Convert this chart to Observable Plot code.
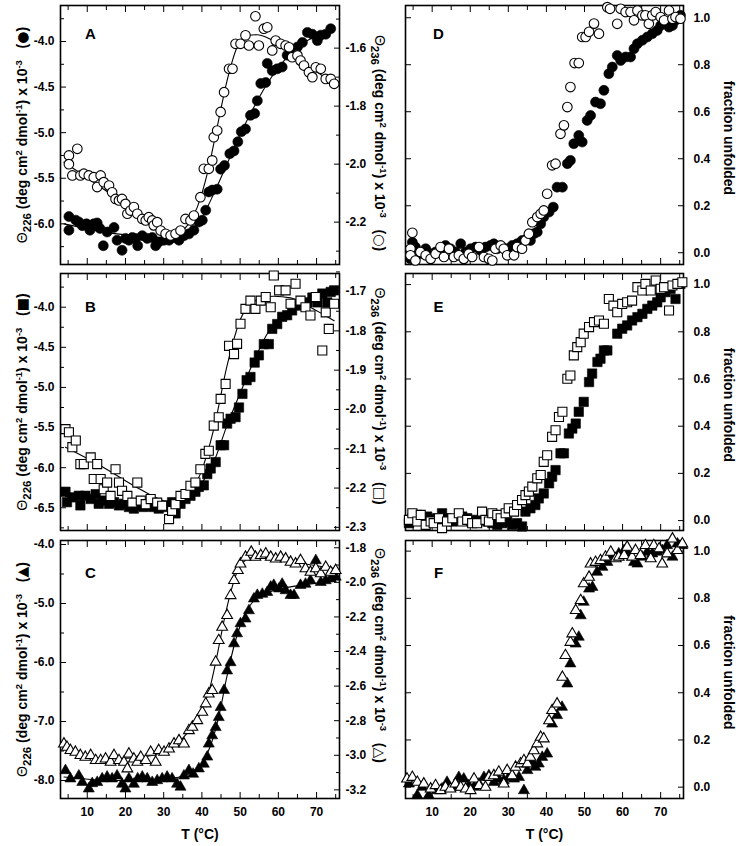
<!DOCTYPE html>
<html><head><meta charset="utf-8">
<script src="https://cdn.jsdelivr.net/npm/d3@7"></script>
<script src="https://cdn.jsdelivr.net/npm/@observablehq/plot@0.6"></script>
<style>
html,body{margin:0;padding:0;background:#fff;}
#wrap{position:relative;width:741px;height:846px;overflow:hidden;background:#fff;}
</style></head><body><div id="wrap"></div>
<script>
// ---------- shared axis values ----------
const xDomain = [3, 76];
const xMajor = [10, 20, 30, 40, 50, 60, 70];
const xMinor = [5, 15, 25, 35, 45, 55, 65, 75];
const fracTicks = [0, 0.2, 0.4, 0.6, 0.8, 1.0];

// ---------- Panel A (filled: left axis, open: right axis) ----------
const aYL = [-6.446, -3.605], aYR = [-2.346, -1.453];
const aLMajor = [-6.0, -5.5, -5.0, -4.5, -4.0], aLMinor = [-6.25, -5.75, -5.25, -4.75, -4.25, -3.75];
const aRMajor = [-2.2, -2.0, -1.8, -1.6], aRMinor = [-2.3, -2.1, -1.9, -1.7, -1.5];
const aFilled = [[5.2,-5.92],[5.2,-6.07],[7.0,-5.96],[7.8,-5.98],[8.7,-6.02],[9.8,-6.0],[10.7,-6.07],[11.7,-6.0],[12.6,-5.99],[13.3,-6.05],[14.2,-6.24],[15.2,-6.09],[17.0,-6.04],[17.8,-6.18],[19.1,-6.29],[20.0,-6.16],[20.9,-6.18],[21.8,-6.15],[22.6,-6.16],[23.2,-6.24],[24.4,-6.13],[25.7,-6.16],[27.0,-6.15],[27.9,-6.24],[28.7,-6.2],[30.1,-6.18],[31.4,-6.18],[32.7,-6.15],[34.0,-6.18],[35.3,-6.13],[36.6,-6.11],[37.9,-6.07],[39.2,-5.98],[40.1,-5.96],[41.0,-5.85],[41.8,-5.65],[42.7,-5.63],[44.0,-5.62],[44.9,-5.40],[45.9,-5.36],[47.3,-5.23],[48.4,-5.20],[49.4,-5.10],[50.3,-4.99],[51.4,-4.96],[52.7,-4.81],[53.8,-4.79],[54.5,-4.65],[55.4,-4.46],[56.7,-4.45],[57.1,-4.24],[58.4,-4.32],[59.7,-4.30],[61.0,-4.28],[62.3,-4.15],[63.6,-4.10],[65.0,-4.06],[66.3,-4.01],[67.6,-3.90],[68.9,-3.92],[70.2,-3.99],[71.1,-3.93],[72.4,-3.92],[73.7,-3.86]];
const aOpen = [[5.2,-1.970],[5.2,-2.000],[7.4,-1.947],[6.1,-2.039],[8.2,-2.039],[9.1,-2.033],[10.4,-2.039],[11.7,-2.045],[12.6,-2.079],[13.5,-2.039],[14.3,-2.062],[15.7,-2.074],[16.5,-2.097],[17.4,-2.120],[18.3,-2.125],[19.1,-2.120],[20.0,-2.137],[20.5,-2.171],[21.3,-2.160],[22.2,-2.148],[23.1,-2.171],[24.4,-2.189],[25.3,-2.194],[26.1,-2.183],[27.0,-2.194],[27.4,-2.211],[28.3,-2.200],[29.2,-2.229],[30.5,-2.240],[31.8,-2.246],[33.1,-2.240],[34.4,-2.229],[35.7,-2.189],[37.0,-2.194],[37.9,-2.177],[39.6,-2.114],[40.5,-2.016],[41.8,-2.016],[42.7,-1.987],[43.1,-1.907],[44.0,-1.884],[44.9,-1.820],[45.8,-1.752],[47.1,-1.671],[48.0,-1.671],[48.8,-1.585],[50.1,-1.585],[51.4,-1.556],[52.3,-1.591],[54.0,-1.490],[54.9,-1.591],[56.2,-1.533],[57.1,-1.528],[58.4,-1.608],[59.3,-1.574],[60.6,-1.585],[61.9,-1.591],[62.8,-1.597],[63.6,-1.631],[65.0,-1.625],[65.8,-1.643],[66.7,-1.660],[68.0,-1.683],[68.9,-1.700],[69.8,-1.666],[71.1,-1.671],[72.4,-1.706],[73.7,-1.706],[74.6,-1.723]];
const aFilledFit = [[3.9,-6.0],[17.8,-6.11],[30.9,-6.15],[36.2,-6.11],[39.6,-5.96],[43.1,-5.67],[46.6,-5.34],[50.1,-5.01],[53.6,-4.72],[57.1,-4.46],[61.5,-4.21],[65.8,-4.04],[70.2,-3.93],[74.6,-3.84]];
const aOpenFit = [[3.9,-1.993],[13.5,-2.079],[22.2,-2.160],[30.9,-2.234],[33.5,-2.240],[36.2,-2.211],[38.8,-2.148],[41.4,-2.033],[44.0,-1.872],[46.6,-1.711],[49.2,-1.597],[51.9,-1.556],[54.5,-1.554],[57.1,-1.564],[61.5,-1.602],[65.8,-1.648],[70.2,-1.683],[74.6,-1.723]];

// ---------- Panel B ----------
const bYL = [-6.783, -3.58], bYR = [-2.308, -1.654];
const bLMajor = [-6.5, -6.0, -5.5, -5.0, -4.5, -4.0], bLMinor = [-6.75, -6.25, -5.75, -5.25, -4.75, -4.25, -3.75];
const bRMajor = [-2.3, -2.2, -2.1, -2.0, -1.9, -1.8, -1.7], bRMinor = [-2.25, -2.15, -2.05, -1.95, -1.85, -1.75, -1.65];
const bFilled = [[4.3,-6.30],[4.7,-6.43],[6.1,-6.37],[7.8,-6.35],[8.2,-6.47],[9.5,-6.35],[10.9,-6.39],[12.2,-6.33],[13.0,-6.45],[14.3,-6.41],[15.7,-6.45],[17.0,-6.43],[18.3,-6.47],[19.6,-6.45],[20.9,-6.49],[22.2,-6.51],[23.5,-6.47],[24.8,-6.49],[26.1,-6.47],[27.4,-6.49],[28.7,-6.51],[30.1,-6.49],[31.4,-6.47],[32.2,-6.43],[33.1,-6.57],[34.4,-6.45],[35.7,-6.39],[37.0,-6.35],[38.3,-6.30],[39.2,-6.24],[40.5,-6.22],[41.4,-6.08],[42.3,-6.01],[43.6,-5.93],[44.9,-5.72],[45.8,-5.72],[46.6,-5.45],[47.5,-5.39],[48.8,-5.37],[49.7,-5.25],[50.6,-5.08],[51.7,-4.91],[52.7,-4.87],[53.8,-4.69],[54.9,-4.60],[56.2,-4.46],[57.5,-4.46],[58.4,-4.27],[59.7,-4.21],[61.0,-4.12],[62.3,-4.10],[63.6,-4.04],[65.0,-3.98],[66.3,-3.96],[67.6,-3.94],[68.9,-3.88],[70.2,-3.94],[71.5,-3.83],[72.8,-3.94],[73.7,-3.81],[74.6,-3.79]];
const bOpen = [[4.3,-2.050],[5.2,-2.058],[6.1,-2.096],[7.0,-2.079],[8.2,-2.139],[9.1,-2.139],[10.9,-2.122],[11.7,-2.177],[12.6,-2.139],[13.5,-2.177],[14.3,-2.203],[15.2,-2.186],[16.1,-2.220],[17.4,-2.152],[18.3,-2.186],[19.1,-2.207],[20.5,-2.220],[21.8,-2.237],[23.1,-2.186],[24.0,-2.232],[25.3,-2.241],[26.6,-2.228],[28.3,-2.237],[29.6,-2.245],[31.4,-2.279],[32.2,-2.258],[33.1,-2.241],[34.4,-2.220],[35.7,-2.215],[37.0,-2.194],[38.3,-2.186],[39.6,-2.152],[40.9,-2.113],[41.8,-2.105],[43.1,-2.041],[44.4,-2.020],[44.9,-1.973],[46.2,-1.935],[47.1,-1.838],[48.4,-1.859],[49.2,-1.833],[50.1,-1.782],[51.4,-1.744],[52.7,-1.723],[54.0,-1.744],[55.4,-1.723],[56.7,-1.714],[58.0,-1.740],[58.8,-1.659],[60.2,-1.697],[61.9,-1.697],[63.2,-1.731],[64.5,-1.680],[65.8,-1.723],[67.1,-1.740],[68.4,-1.761],[69.8,-1.714],[71.5,-1.850],[72.4,-1.753],[73.2,-1.795],[74.6,-1.731]];
const bFilledFit = [[4.3,-6.36],[17.8,-6.43],[30.9,-6.47],[36.2,-6.38],[39.6,-6.22],[43.1,-5.93],[46.6,-5.47],[50.1,-5.06],[53.6,-4.67],[57.1,-4.33],[61.5,-4.09],[65.8,-3.96],[70.2,-3.88],[74.6,-3.81]];
const bOpenFit = [[4.3,-2.096],[13.5,-2.143],[22.2,-2.194],[30.9,-2.235],[33.5,-2.238],[36.2,-2.220],[39.6,-2.164],[43.1,-2.050],[46.6,-1.888],[50.1,-1.770],[53.6,-1.725],[58.8,-1.712],[63.2,-1.716],[67.6,-1.736],[71.9,-1.759],[74.6,-1.774]];

// ---------- Panel C ----------
const cYL = [-8.305, -3.932], cYR = [-3.25, -1.758];
const cLMajor = [-8, -7, -6, -5, -4], cLMinor = [-7.5, -6.5, -5.5, -4.5];
const cRMajor = [-3.2, -3.0, -2.8, -2.6, -2.4, -2.2, -2.0, -1.8], cRMinor = [-3.1, -2.9, -2.7, -2.5, -2.3, -2.1, -1.9];
const cFilled = [[4.3,-7.83],[5.6,-7.97],[7.8,-7.92],[8.7,-8.03],[10.4,-8.14],[11.3,-8.05],[12.6,-8.03],[13.9,-7.97],[15.2,-7.94],[16.5,-7.97],[17.8,-7.92],[19.1,-8.06],[20.0,-8.14],[20.9,-7.97],[22.2,-8.06],[23.2,-7.97],[24.4,-7.94],[25.7,-7.97],[27.0,-8.03],[28.3,-8.0],[29.6,-7.97],[30.9,-7.94],[32.2,-7.97],[33.5,-8.06],[34.4,-8.11],[35.3,-7.92],[36.6,-7.83],[37.7,-7.89],[39.2,-7.80],[40.5,-7.72],[41.4,-7.60],[41.8,-7.38],[42.7,-7.24],[43.6,-7.10],[44.4,-6.93],[44.9,-6.76],[45.8,-6.47],[46.6,-6.14],[47.5,-6.0],[48.4,-5.68],[49.2,-5.51],[50.1,-5.34],[51.4,-5.26],[52.3,-5.12],[53.6,-4.92],[54.5,-4.86],[55.8,-4.84],[57.1,-4.81],[58.0,-4.72],[58.8,-4.69],[60.2,-4.75],[61.0,-4.67],[61.9,-4.78],[63.2,-4.86],[64.1,-4.86],[65.8,-4.69],[67.1,-4.67],[68.4,-4.61],[69.8,-4.27],[71.1,-4.64],[72.4,-4.61],[73.7,-4.58],[75.0,-4.55]];
const cOpen = [[3.9,-2.934],[4.7,-2.953],[5.6,-2.972],[6.9,-2.982],[8.2,-3.001],[9.5,-3.011],[10.9,-3.001],[12.2,-3.030],[13.5,-3.030],[14.8,-3.021],[16.1,-3.040],[17.0,-3.001],[18.3,-3.030],[19.6,-3.040],[20.5,-3.078],[20.9,-2.992],[22.2,-3.021],[23.1,-3.040],[24.0,-3.011],[25.3,-3.030],[26.6,-2.982],[27.9,-3.040],[28.7,-2.972],[30.1,-2.982],[31.4,-2.963],[32.7,-2.934],[34.0,-2.915],[35.3,-2.934],[36.6,-2.857],[37.5,-2.837],[38.8,-2.799],[40.1,-2.751],[41.0,-2.702],[41.8,-2.645],[42.7,-2.625],[43.6,-2.461],[44.4,-2.336],[45.3,-2.259],[46.6,-2.191],[47.5,-2.076],[48.4,-1.989],[49.4,-1.931],[50.1,-1.893],[51.4,-1.854],[52.9,-1.825],[54.0,-1.854],[55.4,-1.844],[56.7,-1.835],[58.0,-1.854],[59.3,-1.864],[60.6,-1.854],[61.9,-1.864],[63.2,-1.883],[64.5,-1.893],[65.8,-1.873],[67.1,-1.921],[68.4,-1.941],[69.8,-1.921],[71.1,-1.950],[72.4,-1.912],[73.7,-1.941],[75.0,-1.931]];
const cFilledFit = [[3.9,-7.94],[17.8,-8.0],[30.9,-7.97],[36.2,-7.90],[39.6,-7.75],[42.2,-7.42],[44.4,-6.92],[46.6,-6.22],[48.4,-5.72],[50.1,-5.36],[52.3,-5.06],[55.0,-4.88],[61.5,-4.74],[68.4,-4.67],[75.0,-4.61]];
const cOpenFit = [[3.9,-2.963],[13.5,-3.021],[22.2,-3.015],[30.9,-2.972],[36.2,-2.870],[39.6,-2.760],[42.2,-2.600],[44.0,-2.420],[45.8,-2.220],[47.5,-2.060],[49.2,-1.940],[51.0,-1.880],[53.6,-1.855],[58.8,-1.860],[65.8,-1.890],[75.0,-1.920]];

// ---------- Panel D (fraction unfolded) ----------
const dY = [-0.05, 1.052];
const dFilled = [[4.3,-0.026],[4.8,0.045],[5.6,0.024],[6.9,-0.004],[8.3,0.017],[9.6,-0.004],[10.9,0.003],[12.2,0.003],[13.5,0.031],[14.8,0.017],[16.1,0.003],[17.5,0.038],[18.8,0.003],[20.1,0.017],[21.4,0.024],[22.7,0.010],[24.0,0.024],[25.3,0.031],[26.2,0.038],[27.1,0.017],[28.4,0.024],[29.7,0.017],[31.0,0.031],[32.3,0.038],[33.6,0.052],[34.9,0.060],[35.8,0.052],[36.7,0.081],[37.6,0.088],[38.5,0.123],[39.3,0.152],[40.7,0.173],[41.8,0.194],[42.8,0.279],[44.2,0.279],[45.5,0.379],[46.3,0.393],[47.2,0.464],[48.5,0.499],[49.4,0.471],[50.7,0.563],[51.6,0.584],[52.9,0.641],[54.2,0.634],[55.1,0.691],[56.4,0.762],[57.3,0.790],[58.6,0.839],[59.5,0.818],[60.8,0.833],[62.1,0.833],[63.0,0.868],[63.9,0.889],[65.2,0.904],[66.5,0.918],[67.8,0.932],[69.1,0.946],[70.0,0.967],[70.9,0.982],[72.2,0.960],[73.1,0.967],[73.9,0.989],[75.2,1.010]];
const dOpen = [[4.3,0.017],[4.8,0.085],[4.3,-0.011],[5.6,-0.033],[6.9,0.003],[8.3,-0.011],[9.6,-0.026],[10.9,-0.004],[12.2,0.024],[13.1,-0.018],[14.4,0.017],[15.7,-0.018],[17.0,-0.011],[18.3,-0.026],[19.6,-0.004],[20.5,-0.018],[22.3,0.024],[23.6,-0.018],[24.9,-0.026],[25.8,-0.033],[26.6,0.017],[28.0,0.031],[28.8,0.017],[29.7,-0.011],[31.5,-0.011],[32.3,0.024],[33.6,0.017],[34.5,0.052],[35.4,0.081],[36.3,0.130],[37.6,0.152],[38.5,0.166],[39.3,0.180],[40.2,0.251],[41.5,0.372],[42.4,0.379],[43.7,0.506],[44.6,0.542],[45.5,0.620],[46.3,0.705],[47.4,0.807],[48.5,0.807],[49.4,0.918],[50.3,0.918],[51.2,0.940],[52.5,0.975],[53.8,0.932],[56.0,1.045],[56.7,1.038],[58.6,0.974],[59.5,1.038],[60.8,1.024],[62.1,1.024],[63.0,0.989],[63.9,1.031],[65.2,1.010],[66.0,1.010],[66.9,0.974],[67.8,1.010],[68.7,1.024],[70.0,1.003],[70.9,0.989],[72.2,1.031],[73.1,0.996],[73.9,1.003],[75.2,0.996]];

// ---------- Panel E ----------
const eY = [-0.042, 1.047];
const eFilled = [[3.9,-0.011],[4.8,0.010],[6.1,0.024],[7.4,0.010],[8.7,0.017],[10.0,0.003],[11.3,0.010],[12.6,0.031],[13.9,0.010],[15.3,-0.004],[16.6,0.003],[17.9,0.017],[19.2,0.010],[20.5,-0.004],[21.8,0.003],[23.1,0.010],[24.5,-0.004],[25.8,-0.011],[27.1,-0.018],[28.4,-0.011],[29.7,-0.004],[31.0,-0.018],[32.3,-0.011],[33.6,-0.025],[34.5,0.038],[35.8,0.052],[37.1,0.066],[38.0,0.094],[39.3,0.115],[40.7,0.158],[41.5,0.186],[42.4,0.214],[43.7,0.285],[44.6,0.285],[45.9,0.369],[46.8,0.390],[47.7,0.411],[48.5,0.461],[49.8,0.503],[51.2,0.587],[52.0,0.623],[53.4,0.672],[54.2,0.686],[55.1,0.721],[56.0,0.721],[58.6,0.792],[59.9,0.813],[61.2,0.827],[62.5,0.848],[63.9,0.862],[65.2,0.876],[66.5,0.897],[67.8,0.911],[69.1,0.925],[70.0,0.946],[71.3,0.968],[72.6,0.982],[73.9,0.939],[75.2,1.003]];
const eOpen = [[3.9,0.003],[4.8,0.031],[6.1,-0.004],[7.0,0.024],[8.3,-0.018],[9.6,-0.004],[10.4,-0.011],[11.8,0.010],[12.6,-0.032],[13.9,-0.004],[15.3,0.010],[17.0,0.031],[17.9,-0.004],[19.2,0.003],[20.5,-0.011],[21.8,-0.011],[23.1,0.038],[24.0,0.003],[24.9,-0.004],[25.8,0.031],[27.1,0.024],[28.0,0.010],[29.3,0.031],[30.1,0.052],[31.5,0.038],[32.3,0.066],[33.6,0.087],[34.5,0.108],[35.4,0.123],[36.3,0.144],[37.6,0.179],[38.5,0.193],[39.3,0.249],[40.2,0.277],[41.5,0.355],[42.4,0.383],[43.3,0.439],[44.2,0.461],[45.5,0.601],[46.3,0.615],[47.2,0.700],[48.1,0.735],[49.0,0.756],[49.8,0.792],[51.2,0.820],[52.5,0.841],[53.8,0.848],[55.1,0.834],[56.4,0.939],[57.6,0.911],[58.6,0.883],[59.9,0.918],[61.2,0.925],[62.5,0.932],[63.9,0.989],[65.2,0.975],[66.0,1.003],[67.4,0.975],[68.7,1.017],[70.0,0.982],[70.9,0.989],[72.2,0.890],[73.1,0.996],[74.4,1.003],[75.7,1.010]];

// ---------- Panel F ----------
const fY = [-0.048, 1.045];
const fFilled = [[3.9,0.014],[6.1,-0.035],[7.4,0.0],[9.1,-0.035],[11.3,-0.014],[12.6,-0.007],[13.9,0.021],[15.7,0.0],[17.0,0.042],[18.3,0.035],[19.6,0.007],[21.0,0.0],[22.3,0.014],[23.6,0.042],[24.9,0.049],[26.2,0.021],[27.5,0.035],[28.8,0.028],[30.1,0.042],[31.5,0.035],[32.8,0.042],[34.1,-0.014],[35.0,0.071],[36.3,0.106],[37.1,0.085],[38.0,0.099],[38.9,0.127],[40.2,0.141],[41.5,0.268],[42.8,0.304],[44.1,0.339],[45.5,0.438],[46.3,0.523],[47.7,0.607],[48.5,0.636],[49.0,0.727],[49.8,0.784],[51.2,0.840],[52.1,0.847],[53.3,0.911],[54.7,0.932],[56.0,0.953],[57.3,0.982],[59.0,0.989],[60.4,1.003],[61.7,0.982],[63.0,0.953],[63.9,0.946],[65.2,0.975],[66.5,0.996],[67.8,0.989],[69.1,0.996],[70.4,1.003],[71.7,1.024],[73.1,0.975],[74.4,1.031],[75.7,1.024]];
const fOpen = [[3.4,0.035],[4.8,0.042],[6.1,0.021],[7.8,0.014],[9.6,-0.007],[10.9,0.007],[12.2,-0.014],[13.5,0.0],[14.8,-0.007],[16.1,0.014],[17.5,0.0],[18.8,-0.007],[20.1,-0.014],[21.0,0.035],[22.3,0.007],[24.0,0.0],[24.9,0.042],[26.2,0.049],[27.5,0.064],[28.8,0.014],[29.7,0.071],[31.0,0.049],[31.9,0.085],[33.2,0.099],[34.1,0.113],[35.0,0.099],[35.8,0.127],[36.7,0.155],[37.6,0.184],[38.5,0.212],[39.3,0.205],[40.7,0.282],[41.5,0.325],[42.8,0.353],[44.2,0.466],[45.0,0.558],[46.3,0.614],[46.8,0.650],[47.7,0.749],[49.0,0.791],[49.8,0.862],[51.2,0.890],[51.6,0.946],[52.9,0.953],[54.2,0.960],[55.5,0.975],[56.9,0.996],[58.2,0.968],[59.0,0.975],[60.4,0.982],[61.2,1.017],[62.5,0.975],[63.4,1.003],[64.7,0.982],[66.0,1.024],[67.4,0.968],[68.2,1.024],[69.6,1.010],[70.4,0.946],[71.7,0.989],[73.1,1.052],[74.4,1.003],[75.7,1.031]];

// ---------- titles (segment lists: text, kind) ----------
const titleA_L = [["Θ","theta"],["226","sub"],[" (deg cm",""],["2","sup"],[" dmol",""],["-1","sup"],[") x 10",""],["-3","sup"],["   (",""],["●","sym"],[")",""]];
const titleA_R = [["Θ","theta"],["236","sub"],[" (deg cm",""],["2","sup"],[" dmol",""],["-1","sup"],[") x 10",""],["-3","sup"],["   (",""],["○","sym"],[")",""]];
const titleB_L = [["Θ","theta"],["226","sub"],[" (deg cm",""],["2","sup"],[" dmol",""],["-1","sup"],[") x 10",""],["-3","sup"],["   (",""],["■","sym"],[")",""]];
const titleB_R = [["Θ","theta"],["236","sub"],[" (deg cm",""],["2","sup"],[" dmol",""],["-1","sup"],[") x 10",""],["-3","sup"],["   (",""],["□","sym"],[")",""]];
const titleC_L = [["Θ","theta"],["226","sub"],[" (deg cm",""],["2","sup"],[" dmol",""],["-1","sup"],[") x 10",""],["-3","sup"],["   (",""],["▲","sym"],[")",""]];
const titleC_R = [["Θ","theta"],["236","sub"],[" (deg cm",""],["2","sup"],[" dmol",""],["-1","sup"],[") x 10",""],["-3","sup"],["   (",""],["△","sym"],[")",""]];
const fracTitle = "fraction unfolded";
const xTitle = "T (°C)";

// ---------- rendering ----------
const wrap = document.getElementById("wrap");
const FONT = "'Liberation Sans', Arial, Helvetica, sans-serif";
const STYLE = {background: "transparent", overflow: "visible", fontFamily: FONT, fontSize: "12px", fontWeight: "bold", color: "black", maxWidth: "none"};
const fmt1 = d => d.toFixed(1);
const none = () => "";
const pt = d => d[0], pv = d => d[1];
const plain = segs => segs.map(s => s[0]).join("");
const richTitles = [titleA_L, titleA_R, titleB_L, titleB_R, titleC_L, titleC_R];

const rows = [
  {top: 0,   mt: 5,  h: 269, mb: 5,  labels: false, letterDy: 29},
  {top: 263, mt: 10, h: 272, mb: 5,  labels: false, letterDy: 34},
  {top: 530, mt: 10, h: 316, mb: 48, labels: true,  letterDy: 33}
];

function place(svg, left, top) {
  svg.style.position = "absolute";
  svg.style.left = left + "px";
  svg.style.top = top + "px";
  applyRich(svg);
  wrap.appendChild(svg);
}

function applyRich(svg) {
  const map = new Map(richTitles.map(s => [plain(s), s]));
  d3.select(svg).selectAll("text").each(function() {
    const segs = map.get(this.textContent);
    if (!segs) return;
    const el = d3.select(this);
    el.text(null).style("white-space", "pre");
    let shift = 0;
    for (const [str, kind] of segs) {
      const ts = el.append("tspan").text(str);
      const target = kind === "sub" ? 4 : kind === "sup" ? -5 : 0;
      if (target !== shift) { ts.attr("dy", target - shift); shift = target; }
      if (kind === "sub") ts.attr("font-size", "11.5px");
      if (kind === "sup") ts.attr("font-size", "9.5px");
      if (kind === "theta") ts.attr("font-weight", "normal").attr("font-size", "14px");
      if (kind === "sym") ts.attr("font-family", "'DejaVu Sans', sans-serif").attr("font-size", "14px");
    }
  });
}

function xMarks(labels) {
  return [
    Plot.axisX(xMajor, {anchor: "bottom", tickSize: -6, tickPadding: 15, tickFormat: labels ? (d => String(d)) : none, label: null, fontSize: 12}),
    Plot.axisX(xMinor, {anchor: "bottom", tickSize: -4, tickFormat: none, label: null}),
    Plot.axisX(xMajor, {anchor: "top", tickSize: -6, tickFormat: none, label: null}),
    Plot.axisX(xMinor, {anchor: "top", tickSize: -4, tickFormat: none, label: null})
  ];
}

function leftPanel(row, p) {
  const dims = {width: 400, height: row.h, marginTop: row.mt, marginBottom: row.mb, marginLeft: 60, marginRight: 61, style: STYLE};
  const X = {domain: xDomain, axis: null, label: null};
  const under = Plot.plot({...dims, x: X, y: {domain: p.yL, axis: null, label: null}, marks: [
    Plot.frame({stroke: "black", strokeWidth: 1.6}),
    ...xMarks(row.labels),
    Plot.axisY(p.lMajor, {anchor: "left", tickSize: -6, tickPadding: 12, tickFormat: fmt1, label: null, fontSize: 12}),
    Plot.axisY(p.lMinor, {anchor: "left", tickSize: -4, tickFormat: none, label: null}),
    Plot.line(p.filledFit, {x: pt, y: pv, curve: "monotone-x", stroke: "black", strokeWidth: 1.1}),
    Plot.dot(p.filled, {x: pt, y: pv, symbol: p.symbol, r: p.rF, fill: "black", stroke: "black", strokeWidth: 0.6}),
    Plot.text([p.letter], {text: d => d, frameAnchor: "top-left", dx: 30, dy: row.letterDy, fontSize: 15, textAnchor: "middle", lineAnchor: "middle"}),
    Plot.text([plain(p.titleL)], {text: d => d, frameAnchor: "left", dx: -38, rotate: -90, fontSize: 14, textAnchor: "middle", lineAnchor: "middle"}),
    ...(row.labels ? [Plot.text([xTitle], {text: d => d, frameAnchor: "bottom", dy: 36, fontSize: 14, textAnchor: "middle", lineAnchor: "middle"})] : [])
  ]});
  const over = Plot.plot({...dims, x: X, y: {domain: p.yR, axis: null, label: null}, marks: [
    Plot.axisY(p.rMajor, {anchor: "right", tickSize: -6, tickPadding: 12, tickFormat: fmt1, label: null, fontSize: 12}),
    Plot.axisY(p.rMinor, {anchor: "right", tickSize: -4, tickFormat: none, label: null}),
    Plot.line(p.openFit, {x: pt, y: pv, curve: "monotone-x", stroke: "black", strokeWidth: 1.1}),
    Plot.dot(p.open, {x: pt, y: pv, symbol: p.symbol, r: p.rO, fill: "white", stroke: "black", strokeWidth: 1.1}),
    Plot.text([plain(p.titleR)], {text: d => d, frameAnchor: "right", dx: 40, dy: p.titleRdy, rotate: 90, fontSize: 14, textAnchor: "middle", lineAnchor: "middle"})
  ]});
  place(under, 0, row.top);
  place(over, 0, row.top);
}

function rightPanel(row, p) {
  const svg = Plot.plot({width: 396, height: row.h, marginTop: row.mt, marginBottom: row.mb, marginLeft: 60, marginRight: 58, style: STYLE,
    x: {domain: xDomain, axis: null, label: null}, y: {domain: p.y, axis: null, label: null},
    marks: [
      Plot.frame({stroke: "black", strokeWidth: 1.6}),
      ...xMarks(row.labels),
      Plot.axisY(fracTicks, {anchor: "left", tickSize: -6, tickFormat: none, label: null}),
      Plot.axisY(fracTicks, {anchor: "right", tickSize: -6, tickPadding: 16, tickFormat: fmt1, label: null, fontSize: 12}),
      Plot.dot(p.filled, {x: pt, y: pv, symbol: p.symbol, r: p.rF, fill: "black", stroke: "black", strokeWidth: 0.6}),
      Plot.dot(p.open, {x: pt, y: pv, symbol: p.symbol, r: p.rO, fill: "white", stroke: "black", strokeWidth: 1.1}),
      Plot.text([p.letter], {text: d => d, frameAnchor: "top-left", dx: 33, dy: row.letterDy, fontSize: 15, textAnchor: "middle", lineAnchor: "middle"}),
      Plot.text([fracTitle], {text: d => d, frameAnchor: "right", dx: 45, dy: 3, rotate: 90, fontSize: 14, textAnchor: "middle", lineAnchor: "middle"}),
      ...(row.labels ? [Plot.text([xTitle], {text: d => d, frameAnchor: "bottom", dy: 36, fontSize: 14, textAnchor: "middle", lineAnchor: "middle"})] : [])
    ]});
  place(svg, 345, row.top);
}

leftPanel(rows[0], {yL: aYL, yR: aYR, lMajor: aLMajor, lMinor: aLMinor, rMajor: aRMajor, rMinor: aRMinor, filled: aFilled, open: aOpen, filledFit: aFilledFit, openFit: aOpenFit, symbol: "circle", rF: 5, rO: 4.8, letter: "A", titleL: titleA_L, titleR: titleA_R, titleRdy: 8});
leftPanel(rows[1], {yL: bYL, yR: bYR, lMajor: bLMajor, lMinor: bLMinor, rMajor: bRMajor, rMinor: bRMinor, filled: bFilled, open: bOpen, filledFit: bFilledFit, openFit: bOpenFit, symbol: "square", rF: 5.3, rO: 5.1, letter: "B", titleL: titleB_L, titleR: titleB_R, titleRdy: -6});
leftPanel(rows[2], {yL: cYL, yR: cYR, lMajor: cLMajor, lMinor: cLMinor, rMajor: cRMajor, rMinor: cRMinor, filled: cFilled, open: cOpen, filledFit: cFilledFit, openFit: cOpenFit, symbol: "triangle", rF: 4.1, rO: 4.0, letter: "C", titleL: titleC_L, titleR: titleC_R, titleRdy: -14});
rightPanel(rows[0], {y: dY, filled: dFilled, open: dOpen, symbol: "circle", rF: 5, rO: 4.8, letter: "D"});
rightPanel(rows[1], {y: eY, filled: eFilled, open: eOpen, symbol: "square", rF: 5.3, rO: 5.1, letter: "E"});
rightPanel(rows[2], {y: fY, filled: fFilled, open: fOpen, symbol: "triangle", rF: 4.1, rO: 4.0, letter: "F"});
</script>
</body></html>
